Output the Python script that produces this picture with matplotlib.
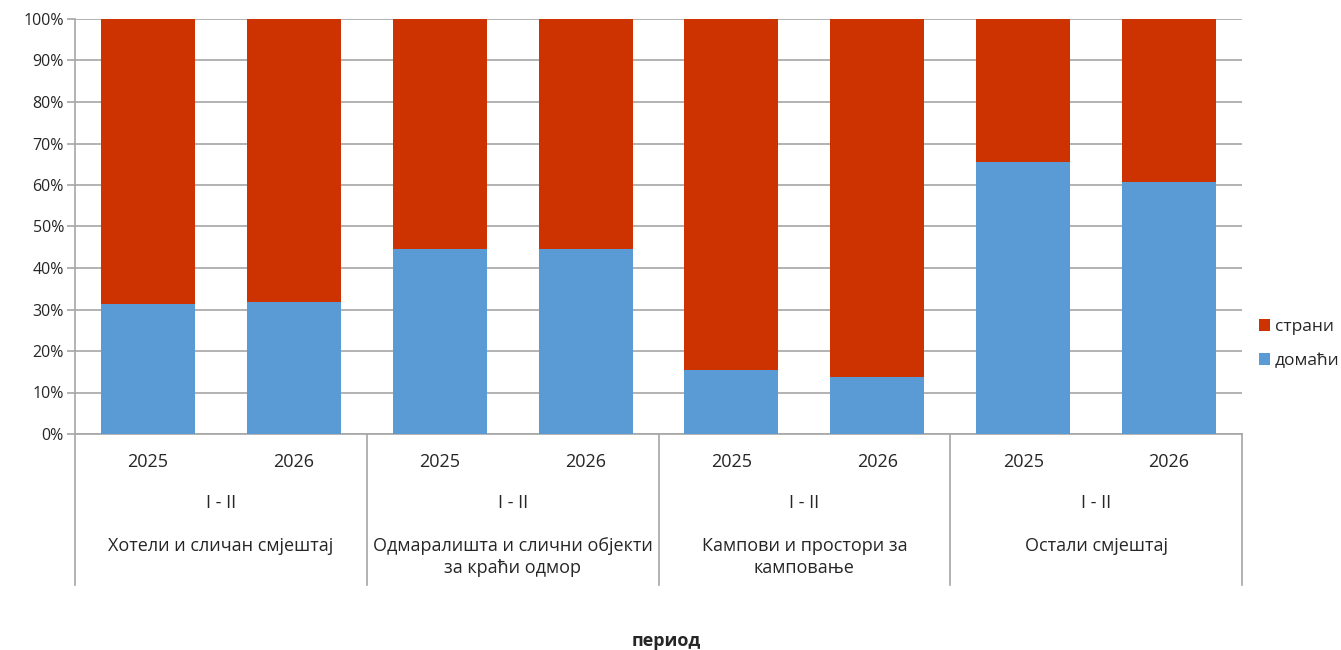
import matplotlib.pyplot as plt
import numpy as np

plt.rcParams['font.family'] = ['Open Sans', 'DejaVu Sans']

# share of tourist arrivals, %
groups = ["Хотели и сличан смјештај",
          "Одмаралишта и слични објекти\nза краћи одмор",
          "Кампови и простори за\nкамповање",
          "Остали смјештај"]
years = ["2025", "2026"]
period = "I - II"
domaci = [31.3, 31.8, 44.5, 44.5, 15.4, 13.7, 65.5, 60.8]
strani = [100 - v for v in domaci]

blue = "#5B9BD5"
red = "#CC3300"
grid_c = "#A6A6A6"
text_c = "#262626"

W, H = 1341, 650
fig = plt.figure(figsize=(W / 100, H / 100), dpi=100)
ax = fig.add_axes([75 / W, (H - 434) / H, (1242 - 75) / W, (434 - 19) / H])

x = np.arange(len(domaci))
bw = 0.645
ax.bar(x, domaci, width=bw, color=blue, label="домаћи", zorder=3)
ax.bar(x, strani, width=bw, bottom=domaci, color=red, label="страни", zorder=3)

ax.set_xlim(-0.5, len(domaci) - 0.5)
ax.set_ylim(0, 100)
ax.set_yticks(np.arange(0, 101, 10))
ax.set_yticklabels([f"{v}%" for v in range(0, 101, 10)], fontsize=11.5, color=text_c)
ax.yaxis.grid(True, color=grid_c, linewidth=1.2, zorder=0)
ax.tick_params(axis='y', length=6, width=1.2, color=grid_c, pad=2)
ax.set_xticks([])
for s in ["top", "right"]:
    ax.spines[s].set_visible(False)
for s in ["left", "bottom"]:
    ax.spines[s].set_color(grid_c)
    ax.spines[s].set_linewidth(1.2)

# multi-level category axis
tr = ax.get_xaxis_transform()
def fy(px):
    return (434 - px) / 415

fs = 13
for i in x:
    ax.text(i, fy(462), years[i % 2], transform=tr, ha="center", va="center",
            fontsize=fs, color=text_c)
for g, name in enumerate(groups):
    cx = 2 * g + 0.5
    ax.text(cx, fy(503), period, transform=tr, ha="center", va="center",
            fontsize=fs, color=text_c)
    for k, line in enumerate(name.split("\n")):
        ax.text(cx, fy(546 + 22 * k), line, transform=tr, ha="center", va="center",
                fontsize=fs, color=text_c)
for b in range(len(groups) + 1):
    ax.plot([2 * b - 0.5, 2 * b - 0.5], [0, fy(585)], transform=tr, color=grid_c,
            linewidth=1.2, clip_on=False)

fig.text(666 / W, (H - 641) / H, "период", ha="center", va="center",
         fontsize=fs, fontweight="bold", color=text_c)

h, l = ax.get_legend_handles_labels()
fig.legend(h[::-1], l[::-1], loc="center left", bbox_to_anchor=(1243 / W, (H - 344) / H),
           frameon=False, fontsize=12.5, handlelength=0.65, handleheight=0.65,
           handletextpad=0.3, labelspacing=1.05, labelcolor=text_c)

fig.savefig("out.png", dpi=100)
